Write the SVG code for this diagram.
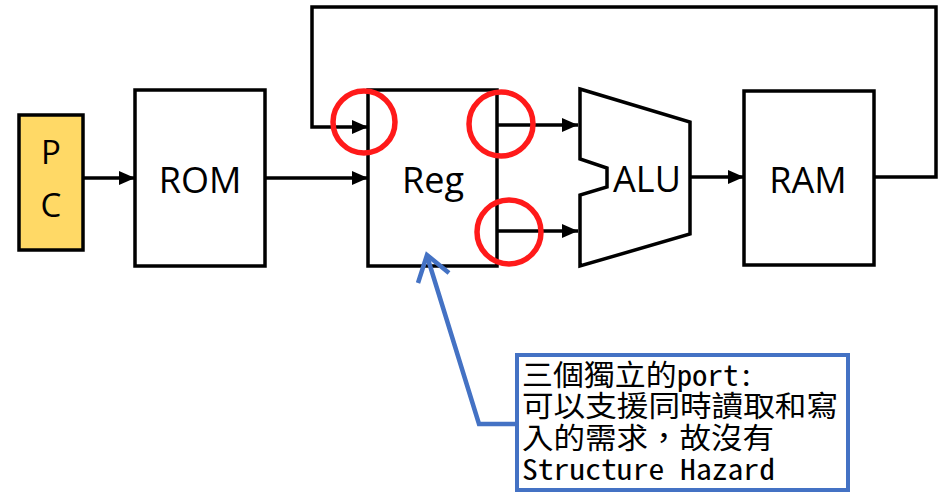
<svg xmlns="http://www.w3.org/2000/svg" width="938" height="493" viewBox="0 0 938 493">
<defs>
<marker id="ah" markerUnits="userSpaceOnUse" markerWidth="16" markerHeight="14" refX="16" refY="7" orient="auto">
<path d="M0,0 L16,7 L0,14 Z" fill="#000"/>
</marker>
<style>
.box{fill:#fff;stroke:#000;stroke-width:3.5}
.lbl{font-family:"Open Sans","Liberation Sans",sans-serif;font-size:36px;fill:#000;text-anchor:middle}
.wire{fill:none;stroke:#000;stroke-width:3.5}
.ring{fill:none;stroke:#ff1a1a;stroke-width:5.5}
.note{font-family:"Noto Sans Mono CJK TC","Noto Sans CJK TC",monospace;font-size:29px;font-weight:300;fill:#000}
</style>
</defs>
<rect width="938" height="493" fill="#fff"/>
<g id="connectors">
<line class="wire" x1="83" y1="178" x2="135" y2="178" marker-end="url(#ah)"/>
<line class="wire" x1="265" y1="178" x2="368" y2="178" marker-end="url(#ah)"/>
<polyline class="wire" points="874,177 936,177 936,7 312,7 312,127 368,127" marker-end="url(#ah)"/>
<line class="wire" x1="497" y1="125" x2="578" y2="125" marker-end="url(#ah)"/>
<line class="wire" x1="497" y1="231" x2="578" y2="231" marker-end="url(#ah)"/>
<line class="wire" x1="690" y1="177" x2="744" y2="177" marker-end="url(#ah)"/>
</g>
<g id="pc">
<rect x="19" y="115" width="64" height="135" fill="#ffd966" stroke="#000" stroke-width="3.5"/>
<text class="lbl" x="51" y="164" style="font-size:33px">P</text>
<text class="lbl" x="51" y="217" style="font-size:33px">C</text>
</g>
<g id="rom">
<rect class="box" x="135" y="90" width="130" height="176"/>
<text class="lbl" x="200" y="193">ROM</text>
</g>
<g id="reg">
<rect class="box" x="368" y="90" width="129" height="176"/>
<text class="lbl" x="433" y="193">Reg</text>
</g>
<g id="alu">
<polygon class="box" points="580,89 690,122 690,234 580,266 580,195 607,187 607,168 580,159"/>
<text class="lbl" x="647" y="192">ALU</text>
</g>
<g id="ram">
<rect class="box" x="744" y="91" width="130" height="174"/>
<text class="lbl" x="808" y="193">RAM</text>
</g>
<g id="rings">
<circle class="ring" cx="364" cy="122" r="31"/>
<circle class="ring" cx="501" cy="124" r="32"/>
<circle class="ring" cx="509" cy="232" r="32"/>
</g>
<g id="note">
<polyline points="517,424 479,424 427,256" fill="none" stroke="#4472c4" stroke-width="4.5"/>
<polyline points="418,283 427,255 449,273" fill="none" stroke="#4472c4" stroke-width="4.5"/>
<rect x="517" y="355" width="331" height="135" fill="#fff" stroke="#4472c4" stroke-width="4"/>
<text class="note" x="522" y="386" textLength="232" lengthAdjust="spacingAndGlyphs">三個獨立的port:</text>
<text class="note" x="522" y="417" textLength="316" lengthAdjust="spacingAndGlyphs">可以支援同時讀取和寫</text>
<text class="note" x="522" y="449" textLength="252" lengthAdjust="spacingAndGlyphs">入的需求，故沒有</text>
<text class="note" x="522" y="480" textLength="253" lengthAdjust="spacingAndGlyphs">Structure Hazard</text>
</g>
</svg>
